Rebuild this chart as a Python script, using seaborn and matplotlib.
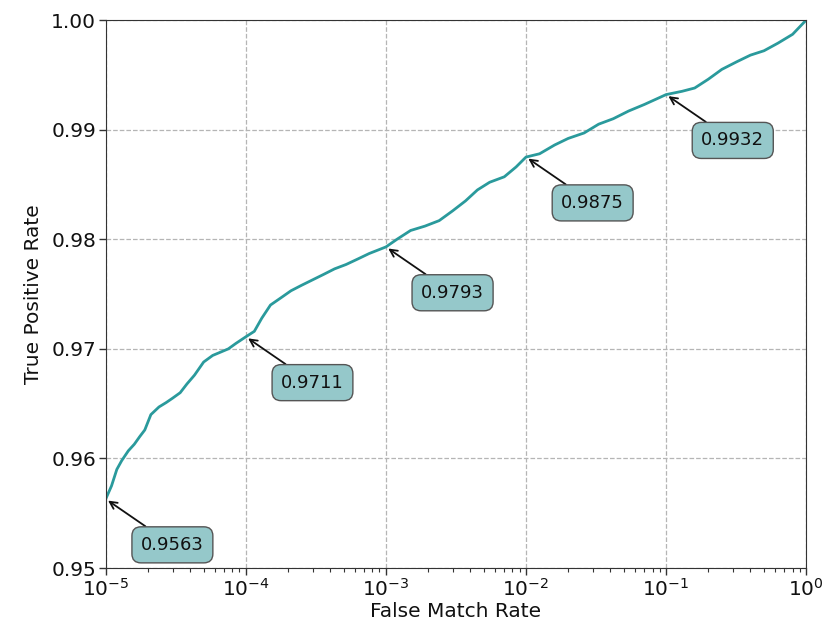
import numpy as np
import pandas as pd
import seaborn as sns
import matplotlib.pyplot as plt
from matplotlib.ticker import FormatStrFormatter

fmr = [1.0e-5, 1.1e-5, 1.2e-5, 1.3e-5, 1.45e-5, 1.6e-5, 1.75e-5, 1.9e-5, 2.1e-5, 2.4e-5,
       2.7e-5, 3.0e-5, 3.4e-5, 3.8e-5, 4.3e-5, 5.0e-5, 5.8e-5, 6.6e-5, 7.5e-5, 8.5e-5,
       1.0e-4, 1.15e-4, 1.3e-4, 1.5e-4, 1.8e-4, 2.1e-4, 2.5e-4, 3.0e-4, 3.6e-4, 4.3e-4,
       5.2e-4, 6.3e-4, 7.6e-4, 1.0e-3, 1.2e-3, 1.5e-3, 1.9e-3, 2.4e-3, 3.0e-3, 3.7e-3,
       4.5e-3, 5.5e-3, 7.0e-3, 8.5e-3, 1.0e-2, 1.25e-2, 1.6e-2, 2.0e-2, 2.6e-2, 3.3e-2,
       4.2e-2, 5.4e-2, 7.0e-2, 1.0e-1, 1.3e-1, 1.6e-1, 2.0e-1, 2.5e-1, 3.2e-1, 4.0e-1,
       5.0e-1, 6.3e-1, 8.0e-1, 1.0]
tpr = [0.9563, 0.9575, 0.9590, 0.9598, 0.9607, 0.9613, 0.9620, 0.9626, 0.9640, 0.9647,
       0.9651, 0.9655, 0.9660, 0.9668, 0.9676, 0.9688, 0.9694, 0.9697, 0.9700, 0.9705,
       0.9711, 0.9716, 0.9728, 0.9740, 0.9747, 0.9753, 0.9758, 0.9763, 0.9768, 0.9773,
       0.9777, 0.9782, 0.9787, 0.9793, 0.9800, 0.9808, 0.9812, 0.9817, 0.9826, 0.9835,
       0.9845, 0.9852, 0.9857, 0.9866, 0.9875, 0.9878, 0.9886, 0.9892, 0.9897, 0.9905,
       0.9910, 0.9917, 0.9923, 0.9932, 0.9935, 0.9938, 0.9946, 0.9955, 0.9962, 0.9968,
       0.9972, 0.9979, 0.9987, 1.0000]

annot_fmr = [1e-5, 1e-4, 1e-3, 1e-2, 1e-1]
annot_tpr = [0.9563, 0.9711, 0.9793, 0.9875, 0.9932]

df = pd.DataFrame({'fmr': fmr, 'tpr': tpr})

sns.set_style('ticks')
fig, ax = plt.subplots(figsize=(8.26, 6.27), dpi=100)
fig.subplots_adjust(left=0.128, right=0.976, top=0.968, bottom=0.094)

sns.lineplot(data=df, x='fmr', y='tpr', ax=ax, color='#2a9a9c', linewidth=2, sort=False)

ax.set_xscale('log')
ax.set_xlim(1e-5, 1)
ax.set_ylim(0.95, 1.0)
ax.yaxis.set_major_formatter(FormatStrFormatter('%.2f'))
ax.grid(True, which='major', linestyle='--', color='#b5b5b5', linewidth=0.9)
ax.tick_params(which='major', labelsize=14.5, length=5, width=1, colors='#333333',
               labelcolor='#111111', pad=2)
ax.tick_params(which='minor', length=3, width=0.8, colors='#333333')
ax.set_xlabel('False Match Rate', fontsize=14.5, color='#111111', labelpad=2)
ax.set_ylabel('True Positive Rate', fontsize=14.5, color='#111111', labelpad=6)
for s in ax.spines.values():
    s.set_color('#333333')

for x, y in zip(annot_fmr, annot_tpr):
    ax.annotate(f'{y:.4f}', xy=(x, y), xytext=(48, -33), textcoords='offset points',
                fontsize=13, ha='center', va='center', color='#111111',
                bbox=dict(boxstyle='round,pad=0.5', fc='#95c8ca', ec='#555555', lw=1),
                arrowprops=dict(arrowstyle='->', color='#111111', lw=1.3,
                                shrinkA=0, shrinkB=2))

fig.savefig('out.png', dpi=100)
